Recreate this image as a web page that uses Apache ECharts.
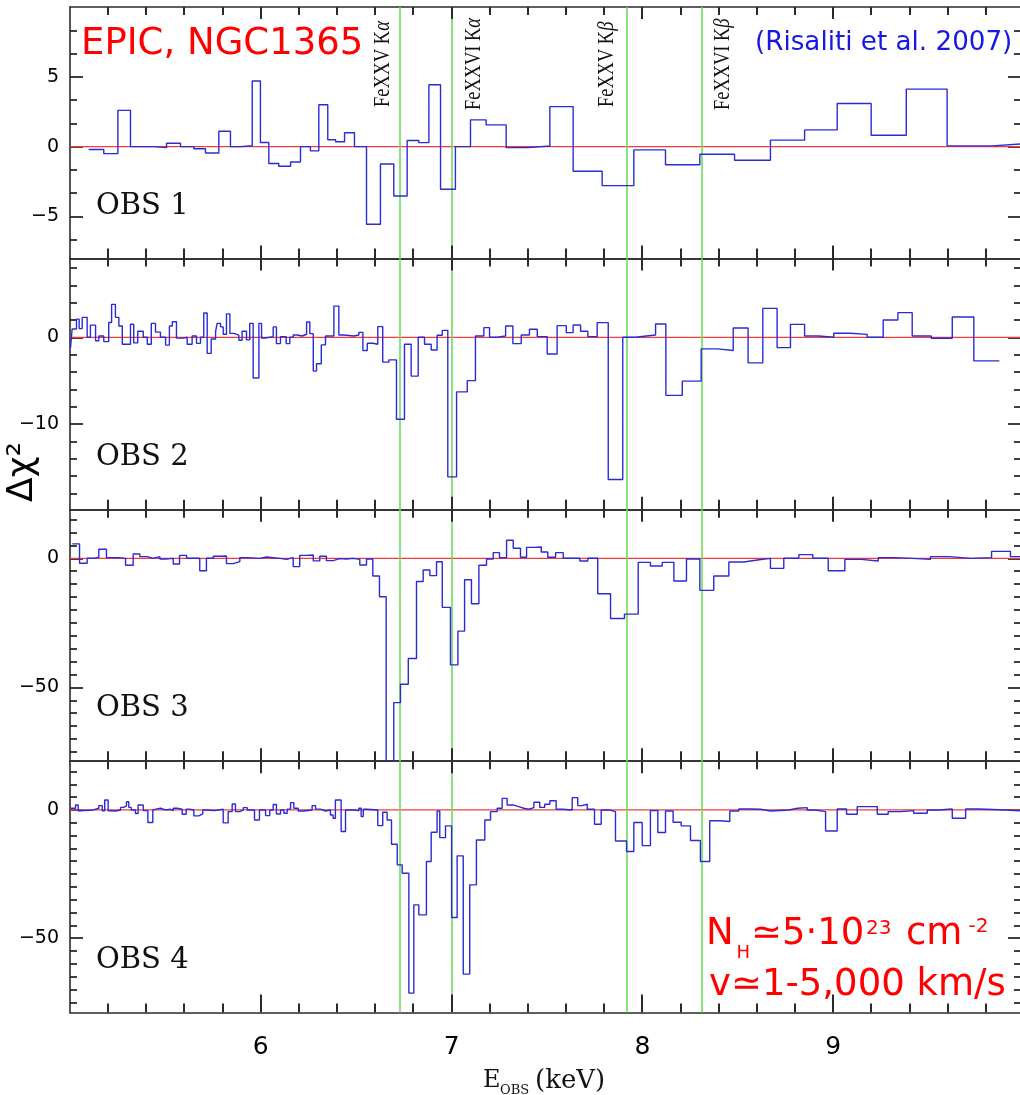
<!DOCTYPE html>
<html>
<head>
<meta charset="utf-8">
<script src="https://cdn.jsdelivr.net/npm/echarts@6/dist/echarts.min.js"></script>
<style>
  html, body { margin: 0; padding: 0; background: #fff; }
  #chart { width: 1020px; height: 1095px; }
</style>
</head>
<body>
<div id="chart"></div>
<script>
// Energy range shown in the residual panels (keV); the frame runs off the right edge
const energyMin = 5;
const energyMax = 9.979;
const xMajorTicks = [6, 7, 8, 9];
const xTickLabels = [6, 7, 8, 9];
const xMinorTicks = [5.2, 5.4, 5.6, 5.8, 6.2, 6.4, 6.6, 6.8, 7.2, 7.4, 7.6, 7.8, 8.2, 8.4, 8.6, 8.8, 9.2, 9.4, 9.6, 9.8];

// Line positions marked in every panel (keV)
const lineEnergies = [6.731, 7.001, 7.921, 8.311];

// OBS 1: bin edges (keV) and delta-chi^2 per bin
const obs1Edges = [5.098, 5.177, 5.251, 5.317, 5.439, 5.506, 5.579, 5.649, 5.710, 5.780, 5.841, 5.894, 5.955, 5.998, 6.042, 6.094, 6.156, 6.208, 6.260, 6.304, 6.351, 6.392, 6.439, 6.491, 6.554, 6.627, 6.697, 6.767, 6.828, 6.881, 6.942, 7.020, 7.099, 7.181, 7.286, 7.399, 7.515, 7.637, 7.789, 7.955, 8.121, 8.301, 8.483, 8.671, 8.850, 9.021, 9.199, 9.383, 9.597, 9.836, 9.987];
const obs1Values = [-0.2, -0.5, 2.6, 0.0, -0.07, 0.25, 0.0, -0.15, -0.45, 1.1, 0.0, 0.07, 4.7, 0.3, -1.2, -1.4, -1.1, 0.0, -0.3, 3.0, 0.5, 0.35, 1.0, 0.0, -5.56, -1.24, -3.53, 0.44, 0.29, 4.43, -3.05, 0.0, 1.92, 1.56, -0.07, 0.05, 2.87, -1.76, -2.79, -0.23, -1.3, -0.54, -0.97, 0.47, 1.2, 3.09, 0.82, 4.12, 0.06, 0.2];

// OBS 2
const obs2Edges = [5.003, 5.011, 5.034, 5.048, 5.064, 5.090, 5.107, 5.134, 5.151, 5.177,
  5.203, 5.218, 5.238, 5.256, 5.274, 5.317, 5.334, 5.355, 5.384, 5.405,
  5.426, 5.448, 5.474, 5.501, 5.521, 5.536, 5.558, 5.596, 5.614, 5.640,
  5.663, 5.684, 5.701, 5.719, 5.740, 5.763, 5.771, 5.789, 5.803, 5.820,
  5.838, 5.858, 5.885, 5.902, 5.925, 5.942, 5.960, 5.990, 6.004, 6.025,
  6.065, 6.082, 6.103, 6.133, 6.152, 6.170, 6.191, 6.217, 6.240, 6.257,
  6.275, 6.292, 6.317, 6.339, 6.383, 6.409, 6.435, 6.487, 6.514, 6.535,
  6.558, 6.587, 6.613, 6.639, 6.671, 6.711, 6.753, 6.788, 6.825, 6.858,
  6.893, 6.924, 6.951, 6.980, 7.026, 7.082, 7.125, 7.169, 7.199, 7.239,
  7.283, 7.321, 7.365, 7.408, 7.449, 7.501, 7.553, 7.601, 7.637, 7.676,
  7.714, 7.763, 7.821, 7.897, 7.964, 8.021, 8.069, 8.123, 8.209, 8.308,
  8.395, 8.476, 8.554, 8.631, 8.706, 8.776, 8.850, 8.923, 9.003, 9.091,
  9.178, 9.262, 9.339, 9.414, 9.514, 9.624, 9.737, 9.871];
const obs2Values = [-1.2, 0.95, 2.1, 1.0, 2.3, 0, 1.4, -0.4, 0.15, -0.5,
  1.7, 3.8, 2.3, 1.3, -0.8, 1.5, -0.65, 0.7, 0, -0.8,
  1.6, 0.6, 0, -0.9, 1.3, 1.8, -0.1, 0, -0.8, 0.15,
  -0.7, 0, 2.8, -1.85, -0.2, 0.65, 1.6, 1.2, 0.35, 2.7,
  0.45, 0.25, -0.35, 0.7, -0.3, 1.6, -4.7, 1.6, -0.08, 0.08,
  1.2, -0.73, 0.08, -0.73, 0, 0.27, 0.15, 0.35, 1.76, 0.42,
  -3.9, -3.06, -0.88, 0.15, 3.6, 0.27, 0.15, 0.27, 0.57, -1.53,
  -0.69, -0.8, 1.23, -2.87, -2.6, -9.46, -0.8, -4.48, 0, -0.8,
  -1.46, 0.23, 0.8, -16.1, -6.3, -5.0, 0.15, 1.11, 0, 0.15,
  1.3, -0.73, 0.27, 0.92, 0.08, -1.92, 1.34, 0.54, 1.42, 0.69,
  0.08, 1.69, -16.4, 0, 0.15, 0.27, 1.53, -6.7, -5.06, -1.34,
  -1.53, 1.07, -2.95, 3.33, -1.19, 1.49, 0.15, 0, 0.46, 0.34,
  0, 1.99, 2.84, 0.15, -0.11, 2.34, -2.72];

// OBS 3
const obs3Edges = [5.012, 5.050, 5.090, 5.122, 5.151, 5.191, 5.256, 5.291, 5.331, 5.366,
  5.405, 5.436, 5.471, 5.501, 5.541, 5.574, 5.611, 5.680, 5.715, 5.751,
  5.789, 5.820, 5.855, 5.890, 5.925, 5.995, 6.030, 6.100, 6.135, 6.170,
  6.204, 6.240, 6.275, 6.309, 6.344, 6.379, 6.414, 6.449, 6.484, 6.519,
  6.554, 6.587, 6.622, 6.657, 6.697, 6.732, 6.773, 6.816, 6.851, 6.886,
  6.921, 6.951, 6.994, 7.033, 7.068, 7.104, 7.143, 7.183, 7.218, 7.251,
  7.288, 7.323, 7.361, 7.393, 7.431, 7.470, 7.504, 7.545, 7.585, 7.672,
  7.714, 7.766, 7.833, 7.906, 7.978, 8.042, 8.104, 8.165, 8.231, 8.301,
  8.374, 8.453, 8.531, 8.602, 8.671, 8.741, 8.820, 8.893, 8.974, 9.061,
  9.147, 9.236, 9.318, 9.414, 9.510, 9.610, 9.720, 9.830, 9.929, 9.987];
const obs3Values = [5.6, -1.9, 0, 0.4, 3.5, 0.26, 0, -2.7, 1.7, 0.65,
  0, 0.65, -0.26, 0, -2.2, 1.16, 0, -4.8, 0, 0.78,
  0.9, -2.07, -1.3, 0.26, 0, 0.5, 0, -0.4, 0.26, -3.2,
  1.16, 1.3, -1.0, 0.78, -0.9, -0.13, -0.26, 0, -0.4, -2.6,
  -0.26, -6.85, -14.9, -90, -55.9, -48.8, -38.8, -9.0, -4.5, -6.7,
  -1.3, -19.0, -41.3, -28.2, -8.3, -17.6, -2.7, -0.26, 2.2, 0.26,
  7.0, 3.9, 0.4, 4.26, 4.4, 2.45, 0.4, 2.2, 0, -1.03,
  0, -13.7, -23.3, -21.6, -1.55, -3.0, -1.55, -8.8, -0.26, -12.4,
  -6.85, -1.42, -0.65, 0, -3.9, 0, 1.42, 0, -4.8, -0.39,
  -1.03, 0.26, 0, -0.39, 0.65, 0, 0.26, 2.7, 0.65];

// OBS 4
const obs4Edges = [5.003, 5.029, 5.043, 5.055, 5.122, 5.151, 5.169, 5.182, 5.200, 5.212,
  5.238, 5.265, 5.282, 5.296, 5.308, 5.321, 5.343, 5.357, 5.384, 5.408,
  5.434, 5.444, 5.474, 5.501, 5.527, 5.541, 5.562, 5.588, 5.609, 5.626,
  5.649, 5.675, 5.696, 5.719, 5.754, 5.780, 5.803, 5.829, 5.850, 5.867,
  5.890, 5.908, 5.929, 5.967, 5.993, 6.025, 6.047, 6.065, 6.082, 6.103,
  6.121, 6.138, 6.156, 6.173, 6.196, 6.225, 6.269, 6.287, 6.313, 6.339,
  6.365, 6.379, 6.391, 6.421, 6.444, 6.487, 6.514, 6.526, 6.537, 6.558,
  6.613, 6.639, 6.662, 6.685, 6.715, 6.741, 6.776, 6.802, 6.828, 6.868,
  6.893, 6.924, 6.938, 6.968, 7.000, 7.029, 7.061, 7.095, 7.130, 7.174,
  7.204, 7.239, 7.265, 7.291, 7.326, 7.352, 7.378, 7.405, 7.431, 7.462,
  7.488, 7.515, 7.548, 7.580, 7.632, 7.661, 7.684, 7.711, 7.749, 7.784,
  7.824, 7.859, 7.917, 7.955, 7.999, 8.042, 8.081, 8.121, 8.161, 8.203,
  8.252, 8.304, 8.353, 8.406, 8.458, 8.505, 8.563, 8.619, 8.671, 8.767,
  8.814, 8.864, 8.907, 8.960, 9.021, 9.070, 9.126, 9.231, 9.288, 9.353,
  9.422, 9.493, 9.553, 9.624, 9.694, 9.763, 9.903, 9.987];
const obs4Values = [0.65, 1.9, -0.3, 0, 0.65, 1.7, -0.3, 3.9, -0.3, -0.4,
  0, 1.0, 1.56, 3.2, 1.0, 0, -1.4, 1.9, -0.26, -4.9,
  0, 0.65, 0, 0.26, -0.26, 0.65, 0.26, -1.7, 0.3, 0,
  -2.3, -1.56, 0, -0.26, 0, 0.3, -5.06, -0.65, 2.3, -0.65,
  0, 0.9, 0, -3.9, 0, -2.2, 0, 2.1, -1.56, 0,
  -1.3, 0.3, 2.86, 0.65, -0.4, 0, 1.7, 0.3, -0.4, 0,
  -1.95, -3.25, 3.9, -8.4, 0, -0.26, 0.65, -2.6, 0.26, 0,
  -6.1, -0.9, -3.9, -13.4, -21.4, -24.7, -71.4, -37.0, -40.9, -20.1,
  -8.7, -0.4, -10.8, -6.2, -41.9, -17.9, -64.0, -29.2, -11.7, -3.9,
  -0.65, 0.65, 4.5, 1.9, 1.3, 0.65, 0.26, 0.9, 3.0, 1.0,
  2.2, 3.6, 0.26, 0, 4.8, 1.7, 2.2, 0.26, -5.6, 0,
  -0.65, -12.1, -16.2, -4.9, -13.9, -0.26, -8.8, -0.4, -4.8, -6.2,
  -11.9, -20.1, -4.2, -4.5, -0.4, 0.39, 0.26, -0.4, 0, 0.65,
  0.9, 0, -0.65, -8.2, 0.39, -1.7, 1.3, -1.7, -0.65, -0.26,
  -1.3, 0, 0.39, -3.25, 0.39, 0, -0.4];

// Vertical range and ticks of each panel
const yRanges = [[-8, 10], [-19.9, 9.1], [-78.6, 18.8], [-79, 19]];
const yMajorTicks = [[-5, 0, 5], [-10, 0], [-50, 0], [-50, 0]];
const yMinorTicks = [
  [-20 / 3, -10 / 3, -5 / 3, 5 / 3, 10 / 3, 20 / 3, 25 / 3],
  [-18, -16, -14, -12, -8, -6, -4, -2, 2, 4, 6, 8],
  [-75, -70, -65, -60, -55, -45, -40, -35, -30, -25, -20, -15, -10, -5, 5, 10, 15],
  [-75, -70, -65, -60, -55, -45, -40, -35, -30, -25, -20, -15, -10, -5, 5, 10, 15]
];
const panelNames = ['OBS 1', 'OBS 2', 'OBS 3', 'OBS 4'];

const panelEdges = [obs1Edges, obs2Edges, obs3Edges, obs4Edges];
const panelValues = [obs1Values, obs2Values, obs3Values, obs4Values];

// Turn bin edges + bin values into points for an 'end' step line
function stepPoints(edges, vals) {
  const pts = vals.map((v, i) => [edges[i], v]);
  pts.push([edges[edges.length - 1], vals[vals.length - 1]]);
  return pts;
}

const AXIS_COLOR = '#2a2a2a';
const axisLineStyle = { color: AXIS_COLOR, width: 1.6 };
const tickLineStyle = { color: AXIS_COLOR, width: 1.8 };
const minusFmt = v => String(v).replace('-', '\u2212');

const gridTops = [7, 258.4, 509.8, 761.2];
const gridHeight = 251.4;

const grid = gridTops.map(t => ({ left: 70, top: t, width: 950, height: gridHeight }));
const xAxis = [];
const yAxis = [];
const series = [];

// energy axis: frame line (bottom axis of the last panel also carries the labels)
function energyAxis(i, position, labels) {
  return {
    type: 'value', gridIndex: i, position: position,
    min: energyMin, max: energyMax,
    axisLine: { show: true, onZero: false, lineStyle: axisLineStyle },
    axisTick: { show: false },
    axisLabel: labels ? {
      show: true, customValues: labels, margin: 22,
      color: '#000', fontFamily: 'DejaVu Sans', fontSize: 25
    } : { show: false },
    splitLine: { show: false }, minorTick: { show: false }, minorSplitLine: { show: false }
  };
}

// one delta-chi^2 axis
function chiAxis(i, position, range, ticks, tickLen, withLine, labels) {
  return {
    type: 'value', gridIndex: i, position: position, min: range[0], max: range[1],
    axisLine: { show: withLine, onZero: false, lineStyle: axisLineStyle },
    axisTick: { show: true, inside: true, length: tickLen, customValues: ticks, lineStyle: tickLineStyle },
    axisLabel: labels ? {
      show: true, customValues: labels, margin: 11,
      formatter: minusFmt, color: '#000', fontFamily: 'DejaVu Sans', fontSize: 19
    } : { show: false },
    splitLine: { show: false }
  };
}

gridTops.forEach((t, i) => {
  const last = i === 3;
  xAxis.push(energyAxis(i, 'bottom', last ? xTickLabels : null));
  xAxis.push(energyAxis(i, 'top', null));

  yAxis.push(chiAxis(i, 'left', yRanges[i], yMajorTicks[i], 13, true, yMajorTicks[i]));
  yAxis.push(chiAxis(i, 'left', yRanges[i], yMinorTicks[i], 7, false, null));
  yAxis.push(chiAxis(i, 'right', yRanges[i], yMajorTicks[i], 12, false, null));
  yAxis.push(chiAxis(i, 'right', yRanges[i], yMinorTicks[i], 6, false, null));

  // zero line and line-energy markers
  series.push({
    type: 'line', xAxisIndex: 2 * i, yAxisIndex: 4 * i,
    data: [[energyMin, 0], [energyMax, 0]],
    symbol: 'none', silent: true, z: 3,
    lineStyle: { color: '#f23c3c', width: 1.3 },
    markLine: {
      silent: true, symbol: ['none', 'none'], z: 4,
      label: { show: false },
      emphasis: { disabled: true },
      lineStyle: { color: '#6fdc5c', width: 1.6, type: 'solid' },
      data: lineEnergies.map(e => ({ xAxis: e }))
    }
  });
  // residual histogram
  series.push({
    type: 'line', xAxisIndex: 2 * i, yAxisIndex: 4 * i,
    data: stepPoints(panelEdges[i], panelValues[i]),
    step: 'end', symbol: 'none', silent: true, z: 10,
    lineStyle: { color: '#2b2bd6', width: 1.4 }
  });
});

const serifTxt = { fontFamily: 'Liberation Serif', fontSize: 23, fill: '#111' };
function lineLabel(x, y, name, greek) {
  return {
    type: 'text', x: x, y: y, rotation: Math.PI / 2, scaleX: 0.8, z: 20,
    style: {
      text: '{n|' + name + ' K}{g|' + greek + '}',
      align: 'left', verticalAlign: 'middle',
      rich: { n: serifTxt, g: Object.assign({ fontStyle: 'italic' }, serifTxt) }
    }
  };
}

// text placed by its baseline (DejaVu Sans: em middle sits 0.297 em above the baseline)
function redText(x, baseline, size, text) {
  return { type: 'text', x: x, y: baseline - 0.297 * size, z: 20,
    style: { text: text, fontFamily: 'DejaVu Sans', fontSize: size, fill: '#ff0000', align: 'left', verticalAlign: 'middle' } };
}

const graphic = [
  redText(81, 55, 37, 'EPIC, NGC1365'),
  { type: 'text', x: 755, y: 50.5 - 0.297 * 26.2, z: 20,
    style: { text: '(Risaliti et al. 2007)', fontFamily: 'DejaVu Sans', fontSize: 26.2, fill: '#1717e6', align: 'left', verticalAlign: 'middle' } },
  lineLabel(382.5, 107, 'FeXXV', 'α'),
  lineLabel(474, 110, 'FeXXVI', 'α'),
  lineLabel(607, 107, 'FeXXV', 'β'),
  lineLabel(723, 110, 'FeXXVI', 'β'),
  { type: 'text', x: 23, y: 472, rotation: Math.PI / 2, z: 20,
    style: { text: 'Δχ²', fontFamily: 'DejaVu Sans', fontSize: 36, fill: '#000', align: 'center', verticalAlign: 'middle' } },
  { type: 'text', x: 483, y: 1081, z: 20,
    style: { text: 'E', fontFamily: 'DejaVu Serif', fontSize: 24, fill: '#111', align: 'left', verticalAlign: 'middle' } },
  { type: 'text', x: 500, y: 1090.6, z: 20,
    style: { text: 'OBS', fontFamily: 'DejaVu Serif', fontSize: 13, fill: '#111', align: 'left', verticalAlign: 'middle' } },
  { type: 'text', x: 535, y: 1081, z: 20,
    style: { text: '(keV)', fontFamily: 'DejaVu Serif', fontSize: 26, fill: '#111', align: 'left', verticalAlign: 'middle' } },
  // column density and velocity annotation
  redText(706, 945, 37, 'N'),
  redText(736.6, 959, 18, 'H'),
  redText(751, 945, 37, '≃5·10'),
  redText(866, 934.5, 20, '23'),
  redText(906, 945, 37, 'cm'),
  redText(968.5, 933, 20, '-2'),
  redText(709, 996.7, 37, 'v≃1-5,000 km/s')
];

const obsBaselines = [216.7, 467.3, 718.3, 970];
panelNames.forEach((name, i) => {
  graphic.push({ type: 'text', x: 96, y: obsBaselines[i] - 9.8, z: 20,
    style: { text: name, fontFamily: 'DejaVu Serif', fontSize: 29, fill: '#111', align: 'left', verticalAlign: 'middle' } });
});

const chart = echarts.init(document.getElementById('chart'), null, { renderer: 'canvas' });
chart.setOption({
  animation: false,
  backgroundColor: '#ffffff',
  grid: grid,
  xAxis: xAxis,
  yAxis: yAxis,
  series: series,
  graphic: graphic
});

// Energy ticks along the top and bottom frame of every panel, placed with each panel's scales
const tickGraphics = [];
gridTops.forEach((t, i) => {
  const last = i === 3;
  const [ymin, ymax] = yRanges[i];
  const finder = { seriesIndex: 2 * i + 1 };
  const addTick = (e, lenTop, lenBottom) => {
    const top = chart.convertToPixel(finder, [e, ymax]);
    const bot = chart.convertToPixel(finder, [e, ymin]);
    const x = Math.round(top[0]);
    const st = { stroke: AXIS_COLOR, lineWidth: 2 };
    tickGraphics.push({ type: 'line', silent: true, z: 15,
      shape: { x1: x, y1: top[1], x2: x, y2: top[1] + lenTop }, style: st });
    tickGraphics.push({ type: 'line', silent: true, z: 15,
      shape: { x1: x, y1: bot[1], x2: x, y2: bot[1] - lenBottom }, style: st });
  };
  xMajorTicks.forEach(e => addTick(e, 12, last ? 18 : 13));
  xMinorTicks.forEach(e => addTick(e, 8, last ? 9 : 10));
});
chart.setOption({ graphic: graphic.concat(tickGraphics) });
</script>
</body>
</html>
